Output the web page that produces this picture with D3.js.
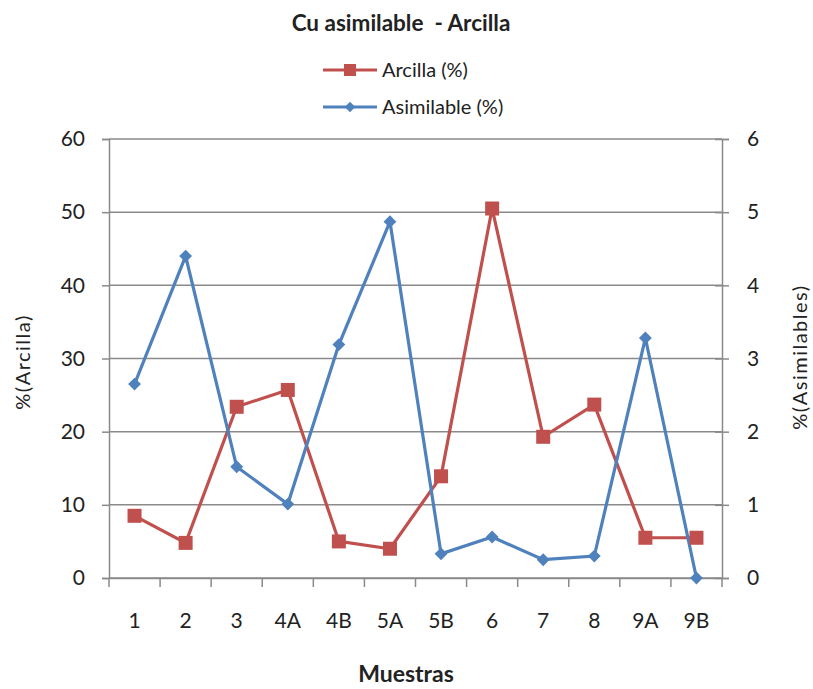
<!DOCTYPE html>
<html>
<head>
<meta charset="utf-8">
<script src="https://cdn.jsdelivr.net/npm/d3@7"></script>
<style>
  body { margin: 0; background: #fff; }
  svg { display: block; }
  text { font-family: Lato, "Open Sans", sans-serif; fill: #222; }
</style>
</head>
<body>
<svg id="chart" width="813" height="689"></svg>
<script>
// Sample identifiers and measured percentages
const muestras = ["1", "2", "3", "4A", "4B", "5A", "5B", "6", "7", "8", "9A", "9B"];
const arcilla = [8.5, 4.8, 23.4, 25.7, 5.0, 4.0, 13.9, 50.5, 19.3, 23.7, 5.5, 5.5];
const asimilable = [2.65, 4.40, 1.52, 1.01, 3.19, 4.87, 0.33, 0.56, 0.25, 0.30, 3.28, 0.0];
const leftTicks = [0, 10, 20, 30, 40, 50, 60];
const rightTicks = [0, 1, 2, 3, 4, 5, 6];

const RED = "#C0504D", BLUE = "#4F81BD", GRID = "#8a8a8a";
const TICK_FONT = "21px";

const svg = d3.select("#chart");
const m = { left: 109, right: 722, top: 139, bottom: 578 };

const x = d3.scaleBand().domain(muestras).range([m.left, m.right]).padding(0);
const yL = d3.scaleLinear().domain([0, 60]).range([m.bottom, m.top]);
const yR = d3.scaleLinear().domain([0, 6]).range([m.bottom, m.top]);
const cx = d => x(d) + x.bandwidth() / 2;

// Horizontal gridlines
svg.append("g").selectAll("line").data(leftTicks).join("line")
  .attr("x1", m.left).attr("x2", m.right)
  .attr("y1", d => yL(d)).attr("y2", d => yL(d))
  .attr("stroke", GRID).attr("stroke-width", 1.5);

// Left axis
const gL = svg.append("g").attr("transform", `translate(${m.left},0)`)
  .call(d3.axisLeft(yL).tickValues(leftTicks).tickSize(7).tickPadding(17));
gL.select(".domain").attr("stroke", GRID).attr("stroke-width", 1.5);
gL.selectAll(".tick line").attr("stroke", GRID).attr("stroke-width", 1.5);
gL.selectAll(".tick text").style("font-size", TICK_FONT).attr("fill", "#222");

// Right axis (ticks cross the line)
const gR = svg.append("g").attr("transform", `translate(${m.right},0)`)
  .call(d3.axisRight(yR).tickValues(rightTicks).tickFormat(d3.format("d")).tickSize(7).tickPadding(18));
gR.select(".domain").attr("stroke", GRID).attr("stroke-width", 1.5);
gR.selectAll(".tick line").attr("x1", -7).attr("stroke", GRID).attr("stroke-width", 1.5);
gR.selectAll(".tick text").style("font-size", TICK_FONT).attr("fill", "#222");

// Bottom axis: labels centred in each band, ticks on band boundaries
const gB = svg.append("g").attr("transform", `translate(0,${m.bottom})`)
  .call(d3.axisBottom(x).tickSize(0).tickPadding(35));
gB.select(".domain").attr("stroke", GRID).attr("stroke-width", 1.5);
gB.selectAll(".tick text").style("font-size", TICK_FONT).attr("fill", "#222");
const bounds = muestras.map(d => x(d)).concat([m.right]);
gB.selectAll("line.bt").data(bounds).join("line").attr("class", "bt")
  .attr("x1", d => d).attr("x2", d => d).attr("y1", 0).attr("y2", 9)
  .attr("stroke", GRID).attr("stroke-width", 1.5);

// Series lines
const lineL = d3.line().x((d, i) => cx(muestras[i])).y(d => yL(d));
const lineR = d3.line().x((d, i) => cx(muestras[i])).y(d => yR(d));

svg.append("path").datum(arcilla).attr("d", lineL)
  .attr("fill", "none").attr("stroke", RED).attr("stroke-width", 3.2);
svg.append("path").datum(asimilable).attr("d", lineR)
  .attr("fill", "none").attr("stroke", BLUE).attr("stroke-width", 3.2);

// Markers
const sq = 14;
svg.append("g").selectAll("rect").data(arcilla).join("rect")
  .attr("x", (d, i) => cx(muestras[i]) - sq / 2).attr("y", d => yL(d) - sq / 2)
  .attr("width", sq).attr("height", sq).attr("fill", RED);
const diamond = d3.symbol().type(d3.symbolDiamond2).size(105);
svg.append("g").selectAll("path").data(asimilable).join("path")
  .attr("d", diamond)
  .attr("transform", (d, i) => `translate(${cx(muestras[i])},${yR(d)})`)
  .attr("fill", BLUE);

// Title
svg.append("text").attr("x", 401).attr("y", 31).attr("text-anchor", "middle")
  .style("font-size", "22.5px").style("font-weight", "bold").attr("xml:space", "preserve")
  .text("Cu asimilable  - Arcilla");

// Legend
const legend = [
  { name: "Arcilla (%)", color: RED, y: 70, mark: "sq" },
  { name: "Asimilable (%)", color: BLUE, y: 107, mark: "di" }
];
const lg = svg.append("g");
legend.forEach(l => {
  lg.append("line").attr("x1", 323).attr("x2", 377).attr("y1", l.y).attr("y2", l.y)
    .attr("stroke", l.color).attr("stroke-width", 3.2);
  if (l.mark === "sq") {
    lg.append("rect").attr("x", 350 - 6).attr("y", l.y - 6).attr("width", 12).attr("height", 12).attr("fill", l.color);
  } else {
    lg.append("path").attr("d", d3.symbol().type(d3.symbolDiamond2).size(70))
      .attr("transform", `translate(350,${l.y})`).attr("fill", l.color);
  }
  lg.append("text").attr("x", 382).attr("y", l.y + 7).style("font-size", "20px").text(l.name);
});

// Axis titles
svg.append("text").attr("transform", "translate(30,362) rotate(-90)").attr("text-anchor", "middle")
  .style("font-size", "20px").style("letter-spacing", "1.5px").text("%(Arcilla)");
svg.append("text").attr("transform", "translate(807,357) rotate(-90)").attr("text-anchor", "middle")
  .style("font-size", "20px").style("letter-spacing", "1.5px").text("%(Asimilables)");
svg.append("text").attr("x", 406).attr("y", 682).attr("text-anchor", "middle")
  .style("font-size", "23px").style("font-weight", "bold").text("Muestras");
</script>
</body>
</html>
